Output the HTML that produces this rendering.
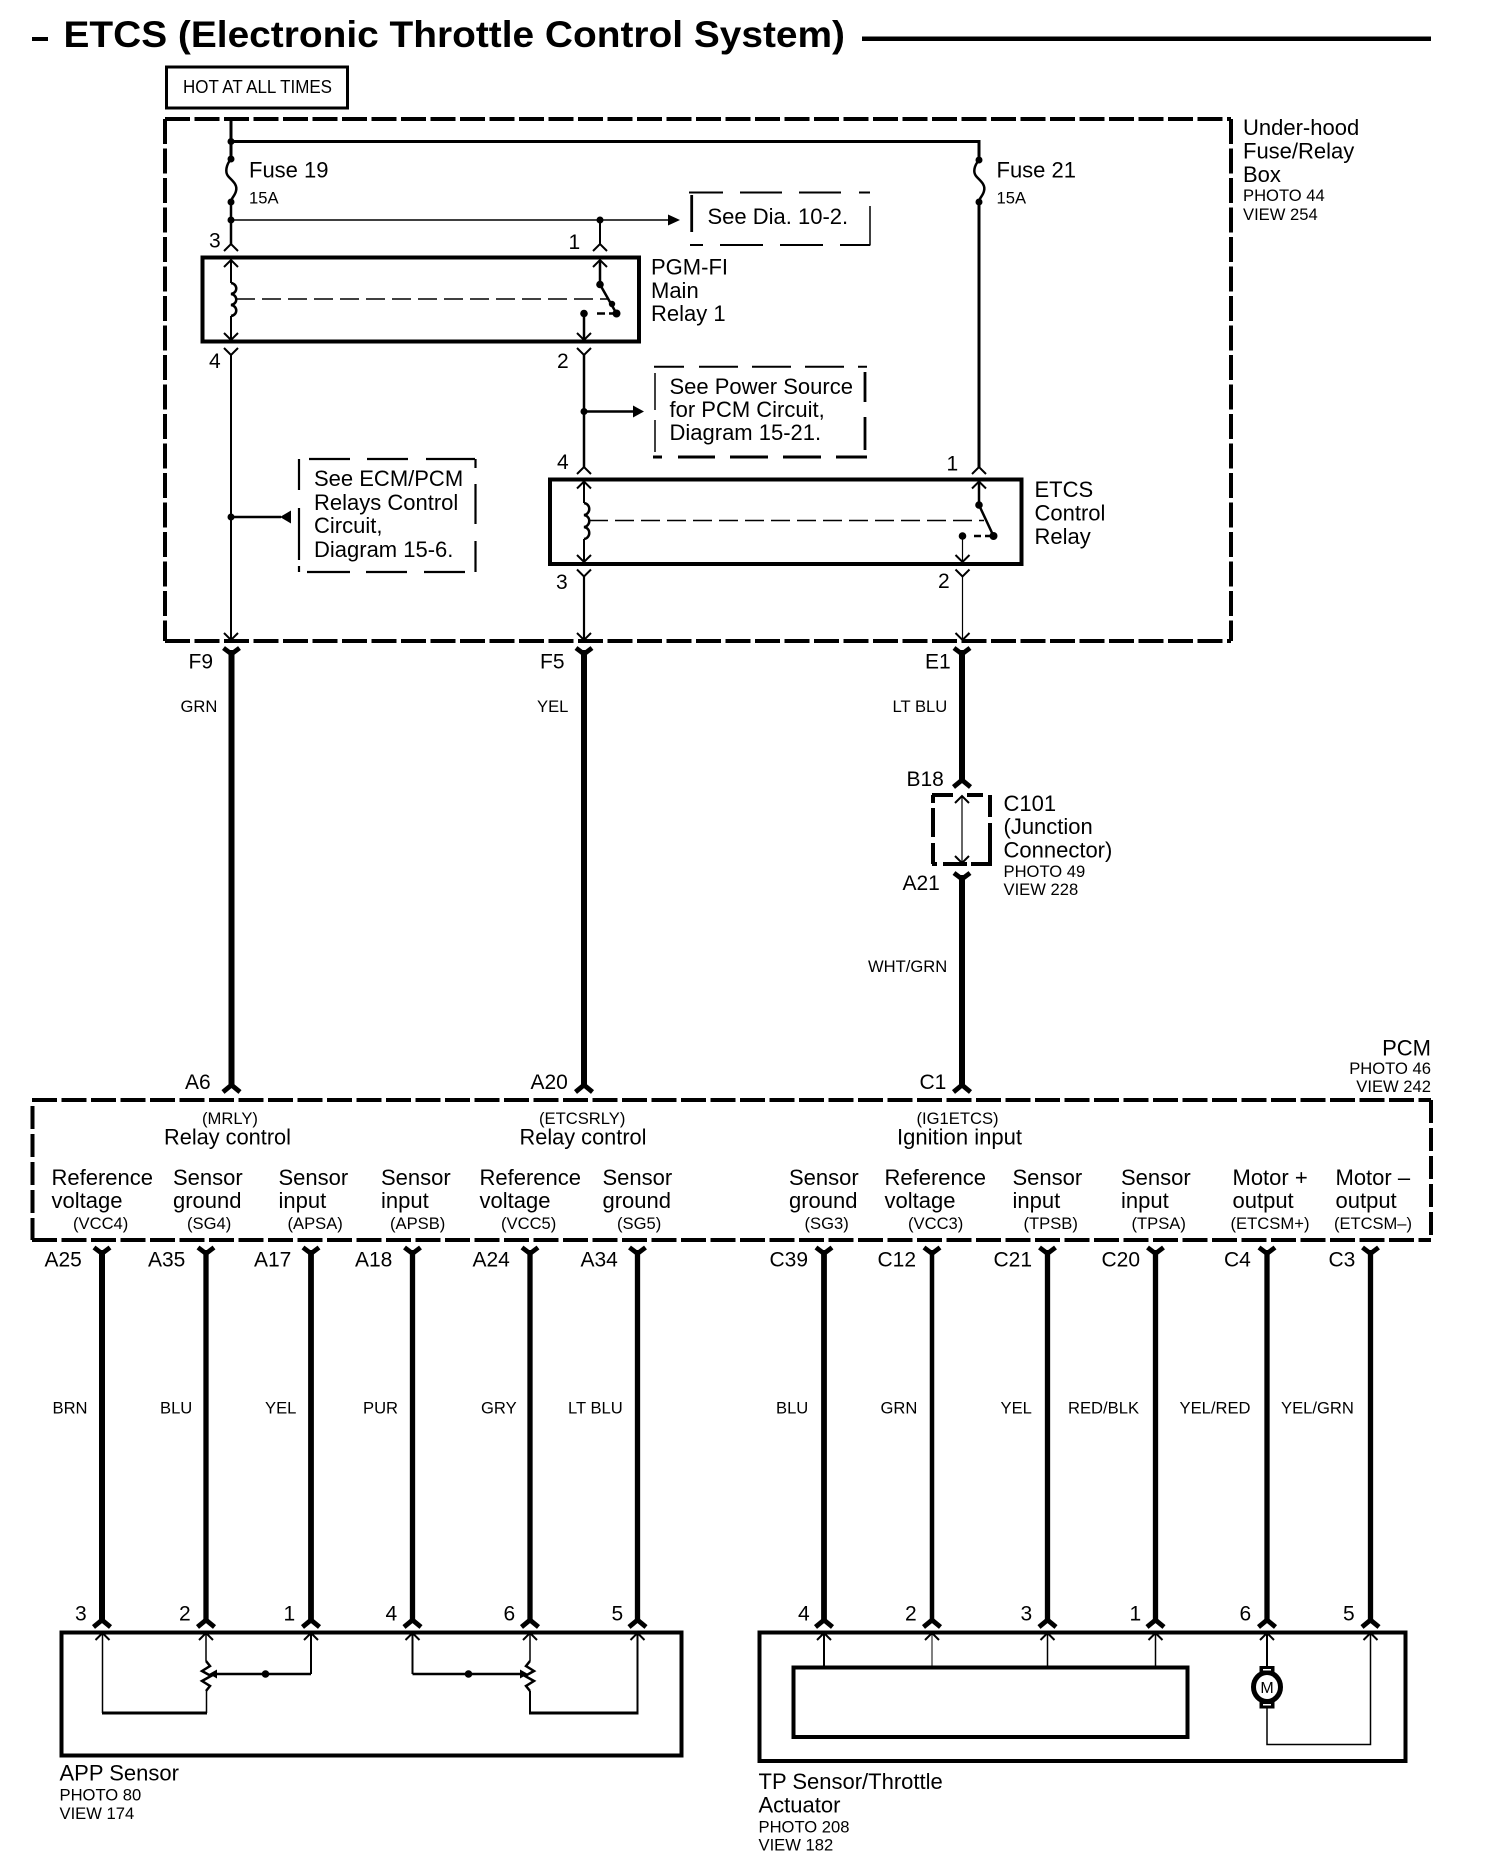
<!DOCTYPE html>
<html>
<head>
<meta charset="utf-8">
<title>ETCS (Electronic Throttle Control System)</title>
<style>
html,body{margin:0;padding:0;background:#fff}
svg{display:block}
text{font-family:"Liberation Sans",sans-serif;font-size:22px;fill:#000}
.s{font-size:16.6px}
.n{font-size:21px}
.w{fill:none;stroke:#000}
</style>
</head>
<body>
<svg xmlns="http://www.w3.org/2000/svg" width="1504" height="1872" viewBox="0 0 1504 1872">
<defs>
<path id="Yt" d="M-8,0 L0,6 L8,0" fill="none" stroke="#000" stroke-width="4.8"/>
<path id="At" d="M-8.5,7 L0,0 L8.5,7" fill="none" stroke="#000" stroke-width="4.8"/>
<path id="vi" d="M-7,-7 L0,0 L7,-7" fill="none" stroke="#000" stroke-width="2"/>
<path id="ai" d="M-7,7 L0,0 L7,7" fill="none" stroke="#000" stroke-width="2"/>
</defs>
<rect width="1504" height="1872" fill="#fff"/>

<!-- title -->
<rect x="32" y="37" width="16" height="4"/>
<text x="63.5" y="47" style="font-size:37.5px;font-weight:bold" textLength="781.5" lengthAdjust="spacingAndGlyphs">ETCS (Electronic Throttle Control System)</text>
<rect x="862" y="36.5" width="569" height="4.5"/>

<!-- hot at all times -->
<rect x="166.5" y="67" width="181" height="41" class="w" stroke-width="3"/>
<text x="183" y="93" style="font-size:18px" textLength="149" lengthAdjust="spacingAndGlyphs">HOT AT ALL TIMES</text>

<!-- under-hood box -->
<g class="w" stroke-width="4" stroke-dasharray="25 4.5">
<path d="M165,119 H1231"/>
<path d="M165,641 H1231"/>
<path d="M165,119 V641"/>
<path d="M1231,119 V641"/>
</g>
<text x="1243" y="135">Under-hood</text>
<text x="1243" y="158.5">Fuse/Relay</text>
<text x="1243" y="182">Box</text>
<text class="s" x="1243" y="201">PHOTO 44</text>
<text class="s" x="1243" y="220">VIEW 254</text>

<!-- top bus and fuses -->
<path class="w" stroke-width="3" d="M231,119 V159 M231,141.5 H979 V160"/>
<circle cx="231" cy="141.5" r="3.5"/>
<circle cx="231" cy="159" r="3.5"/>
<circle cx="231" cy="202" r="3.5"/>
<path class="w" stroke-width="2.5" d="M231,159 C226,165 225,172 228,176 C231,180 238,184 236,191 C235,196 231,198 231,202"/>
<circle cx="979" cy="160" r="3.5"/>
<circle cx="979" cy="202" r="3.5"/>
<path class="w" stroke-width="2.5" d="M979,160 C974,166 973,172 976,176 C979,180 986,184 984,191 C983,196 979,198 979,202"/>
<path class="w" stroke-width="3" d="M979,202 V467"/>
<text x="249" y="177.5">Fuse 19</text>
<text class="s" x="249" y="203.5">15A</text>
<text x="996.5" y="177.5">Fuse 21</text>
<text class="s" x="996.5" y="203.5">15A</text>

<!-- 3 / 1 feed -->
<path class="w" stroke-width="2.5" d="M231,202 V244"/>
<path class="w" stroke-width="1.5" d="M231,220 H668"/>
<path d="M668,214.5 L680,220 L668,225.5 Z"/>
<circle cx="231" cy="220" r="3.5"/>
<circle cx="600" cy="220" r="3.5"/>
<path class="w" stroke-width="2" d="M600,220 V244"/>
<use href="#ai" x="231" y="244"/>
<use href="#ai" x="600" y="244"/>
<text class="n" x="209" y="247.5">3</text>
<text class="n" x="568.5" y="249">1</text>

<!-- See Dia box -->
<path class="w" stroke-width="2.8" d="M691.7,195 V232"/>
<path class="w" stroke-width="1.5" d="M870,206 V245.5"/>
<path class="w" stroke-width="2" d="M689,192.5 H723 M740,192.5 H782 M799,192.5 H841 M859,192.5 H870 M690,245 H703 M720,245 H763 M780,245 H823 M840,245 H870"/>
<text x="707.5" y="224">See Dia. 10-2.</text>

<!-- PGM-FI relay -->
<rect x="202.5" y="257.5" width="436.5" height="84" class="w" stroke-width="4"/>
<use href="#ai" x="231" y="260"/>
<use href="#ai" x="600" y="260"/>
<use href="#vi" x="231" y="340"/>
<use href="#vi" x="584" y="340"/>
<path class="w" stroke-width="2" d="M231,260 V283 M231,316 V340"/>
<path class="w" stroke-width="2.5" d="M231,283 c7,1 7,10 0,11 c7,1 7,10 0,11 c7,1 7,10 0,11"/>
<path class="w" stroke-width="1.5" stroke-dasharray="19 7" d="M236,299 H608"/>
<path class="w" stroke-width="2.5" d="M600,260 V284.5 L616.5,313.5"/>
<circle cx="600" cy="284.5" r="3.8"/>
<circle cx="612" cy="304" r="3.2"/>
<circle cx="616.5" cy="313.5" r="4"/>
<circle cx="584" cy="313.5" r="3.8"/>
<path class="w" stroke-width="2.5" d="M597,313.5 H605 M609,313.5 H614"/>
<path class="w" stroke-width="2.5" d="M584,313.5 V340"/>
<text x="651" y="274.5">PGM-FI</text>
<text x="651" y="298">Main</text>
<text x="651" y="321">Relay 1</text>

<!-- below relay 1 -->
<use href="#ai" transform="translate(231,355) rotate(180)"/>
<use href="#ai" transform="translate(584,355) rotate(180)"/>
<path class="w" stroke-width="2" d="M231,355 V640"/>
<path class="w" stroke-width="2.5" d="M584,355 V467"/>
<text class="n" x="209" y="368">4</text>
<text class="n" x="557" y="368">2</text>
<circle cx="584" cy="411.5" r="3.5"/>
<path class="w" stroke-width="2.5" d="M584,411.5 H633"/>
<path d="M633,405.5 L644,411.5 L633,417.5 Z"/>

<!-- Power source box -->
<path class="w" stroke-width="1.5" d="M655,373 V410 M655,420 V452"/>
<path class="w" stroke-width="2.8" d="M865,372 V402 M865,417 V450"/>
<path class="w" stroke-width="2" d="M654,366.7 H684 M699,366.7 H738 M752,366.7 H791 M805,366.7 H844 M858,366.7 H867"/>
<path class="w" stroke-width="3" d="M653,457 H662 M678,457 H715 M730,457 H768 M783,457 H821 M836,457 H867"/>
<text x="669.5" y="394">See Power Source</text>
<text x="669.5" y="417">for PCM Circuit,</text>
<text x="669.5" y="440">Diagram 15-21.</text>

<!-- ECM box -->
<circle cx="231" cy="517" r="3.5"/>
<path class="w" stroke-width="2.5" d="M231,517 H281"/>
<path d="M280,517 L291,510.5 V523.5 Z"/>
<g class="w" stroke-width="2.2">
<path d="M299,459 V490 M299,508 V560 M299,566 V572"/>
<path d="M475.5,459 V468 M475.5,484 V524 M475.5,541 V572"/>
<path d="M309,459 H350 M367,459 H408 M426,459 H475 M307,572 H350 M366,572 H407 M424,572 H465"/>
</g>
<text x="314" y="486">See ECM/PCM</text>
<text x="314" y="510">Relays Control</text>
<text x="314" y="533">Circuit,</text>
<text x="314" y="557">Diagram 15-6.</text>

<!-- ETCS relay -->
<use href="#ai" x="584" y="467"/>
<use href="#ai" x="979" y="467"/>
<text class="n" x="557" y="469">4</text>
<text class="n" x="946.5" y="470.5">1</text>
<rect x="550" y="479.5" width="471.5" height="84.5" class="w" stroke-width="4"/>
<use href="#ai" x="584" y="481.5"/>
<use href="#ai" x="979" y="481.5"/>
<use href="#vi" x="584" y="562"/>
<use href="#vi" x="962.5" y="562"/>
<path class="w" stroke-width="2" d="M584,481.5 V503 M584,539 V562"/>
<path class="w" stroke-width="2.5" d="M584,503 c7,1 7,11 0,12 c7,1 7,11 0,12 c7,1 7,11 0,12"/>
<path class="w" stroke-width="1.5" stroke-dasharray="19 7" d="M589,520.5 H984"/>
<path class="w" stroke-width="2.5" d="M979,481.5 V505 L993.5,536"/>
<circle cx="979" cy="505" r="3.8"/>
<circle cx="993.5" cy="536" r="4"/>
<circle cx="962.5" cy="536" r="3.8"/>
<path class="w" stroke-width="2.5" d="M974,536 H981 M985,536 H990"/>
<path class="w" stroke-width="1.2" d="M962.5,536 V562"/>
<text x="1034.5" y="497">ETCS</text>
<text x="1034.5" y="520.5">Control</text>
<text x="1034.5" y="544">Relay</text>

<use href="#ai" transform="translate(584,576.5) rotate(180)"/>
<use href="#ai" transform="translate(962.5,576.5) rotate(180)"/>
<text class="n" x="556" y="589">3</text>
<text class="n" x="938" y="588">2</text>
<path class="w" stroke-width="2.2" d="M584,576.5 V640"/>
<path class="w" stroke-width="1.2" d="M962.5,576.5 V640"/>
<use href="#vi" x="231" y="640"/>
<use href="#vi" x="584" y="640"/>
<use href="#vi" x="962.5" y="640"/>

<!-- main thick wires upper -->
<g class="w" stroke-width="6">
<path d="M231.5,650 V1087"/>
<path d="M584,650 V1087"/>
<path d="M962,650 V782"/>
<path d="M962,875 V1087"/>
</g>
<use href="#Yt" x="231.5" y="648"/>
<use href="#Yt" x="584" y="648"/>
<use href="#Yt" x="962" y="648"/>
<use href="#At" x="962" y="780"/>
<use href="#Yt" x="962" y="873"/>
<use href="#At" x="231.5" y="1085"/>
<use href="#At" x="584" y="1085"/>
<use href="#At" x="962" y="1085"/>
<text class="n" x="188.5" y="668.5">F9</text>
<text class="n" x="540" y="668.5">F5</text>
<text class="n" x="925" y="668.5">E1</text>
<text class="s" x="180.5" y="712">GRN</text>
<text class="s" x="537" y="712">YEL</text>
<text class="s" x="892.5" y="712">LT BLU</text>
<text class="n" x="906.5" y="786">B18</text>
<text class="n" x="902.5" y="890">A21</text>
<text class="s" x="868" y="972">WHT/GRN</text>

<!-- C101 -->
<path class="w" stroke-width="4" d="M932,795 H953 M967,795 H983 M932,864 H937 M943,864 H967 M971,864 H992"/>
<path class="w" stroke-width="4" d="M933,795 V803 M933,808 V837 M933,843 V864 M990,795 V817 M990,823 V863"/>
<path class="w" stroke-width="1.2" d="M962,796 V863"/>
<use href="#ai" x="962" y="796"/>
<use href="#vi" x="962" y="863"/>
<text x="1003.5" y="811">C101</text>
<text x="1003.5" y="834">(Junction</text>
<text x="1003.5" y="857.5">Connector)</text>
<text class="s" x="1003.5" y="877">PHOTO 49</text>
<text class="s" x="1003.5" y="895">VIEW 228</text>

<!-- PCM -->
<text x="1431" y="1055.5" text-anchor="end">PCM</text>
<text class="s" x="1431" y="1074" text-anchor="end">PHOTO 46</text>
<text class="s" x="1431" y="1092" text-anchor="end">VIEW 242</text>
<text class="n" x="185" y="1089">A6</text>
<text class="n" x="530.5" y="1089">A20</text>
<text class="n" x="919.5" y="1089">C1</text>
<g class="w" stroke-width="4" stroke-dasharray="25 4.5">
<path d="M32,1100 H1431"/>
<path d="M32,1240 H1431"/>
</g>
<g class="w" stroke-width="4" stroke-dasharray="23 5">
<path d="M32.5,1106 V1240"/>
<path d="M1431,1100 V1240"/>
</g>
<text class="s" x="202" y="1124">(MRLY)</text>
<text x="164" y="1144.5" textLength="127" lengthAdjust="spacingAndGlyphs">Relay control</text>
<text class="s" x="539" y="1124">(ETCSRLY)</text>
<text x="519.5" y="1144.5" textLength="127" lengthAdjust="spacingAndGlyphs">Relay control</text>
<text class="s" x="916.5" y="1124">(IG1ETCS)</text>
<text x="897" y="1144.5" textLength="125" lengthAdjust="spacingAndGlyphs">Ignition input</text>

<text x="51.5" y="1185">Reference</text><text x="51.5" y="1208">voltage</text><text class="s" x="73" y="1229">(VCC4)</text>
<text x="173" y="1185">Sensor</text><text x="173" y="1208">ground</text><text class="s" x="187" y="1229">(SG4)</text>
<text x="278.5" y="1185">Sensor</text><text x="278.5" y="1208">input</text><text class="s" x="287.5" y="1229">(APSA)</text>
<text x="381" y="1185">Sensor</text><text x="381" y="1208">input</text><text class="s" x="390" y="1229">(APSB)</text>
<text x="479.5" y="1185">Reference</text><text x="479.5" y="1208">voltage</text><text class="s" x="501" y="1229">(VCC5)</text>
<text x="602.5" y="1185">Sensor</text><text x="602.5" y="1208">ground</text><text class="s" x="617" y="1229">(SG5)</text>
<text x="789" y="1185">Sensor</text><text x="789" y="1208">ground</text><text class="s" x="804.5" y="1229">(SG3)</text>
<text x="884.5" y="1185">Reference</text><text x="884.5" y="1208">voltage</text><text class="s" x="908" y="1229">(VCC3)</text>
<text x="1012.5" y="1185">Sensor</text><text x="1012.5" y="1208">input</text><text class="s" x="1023.5" y="1229">(TPSB)</text>
<text x="1121" y="1185">Sensor</text><text x="1121" y="1208">input</text><text class="s" x="1131.5" y="1229">(TPSA)</text>
<text x="1232.5" y="1185">Motor +</text><text x="1232.5" y="1208">output</text><text class="s" x="1230.5" y="1229" textLength="79" lengthAdjust="spacingAndGlyphs">(ETCSM+)</text>
<text x="1335.5" y="1185">Motor –</text><text x="1335.5" y="1208">output</text><text class="s" x="1334" y="1229" textLength="78" lengthAdjust="spacingAndGlyphs">(ETCSM–)</text>

<!-- lower wires -->
<g class="w" stroke-width="5.3">
<path stroke-width="6" d="M102,1250 V1622"/>
<path d="M206,1250 V1622"/>
<path stroke-width="5.8" d="M311,1250 V1622"/>
<path d="M412.5,1250 V1622"/>
<path d="M530,1250 V1622"/>
<path d="M637.5,1250 V1622"/>
<path stroke-width="5.8" d="M824,1250 V1622"/>
<path stroke-width="4.5" d="M932,1250 V1622"/>
<path d="M1047.5,1250 V1622"/>
<path d="M1155.5,1250 V1622"/>
<path d="M1267,1250 V1622"/>
<path d="M1370.5,1250 V1622"/>
</g>
<g>
<use href="#Yt" x="102" y="1247.5"/><use href="#Yt" x="206" y="1247.5"/><use href="#Yt" x="311" y="1247.5"/><use href="#Yt" x="412.5" y="1247.5"/><use href="#Yt" x="530" y="1247.5"/><use href="#Yt" x="637.5" y="1247.5"/>
<use href="#Yt" x="824" y="1247.5"/><use href="#Yt" x="932" y="1247.5"/><use href="#Yt" x="1047.5" y="1247.5"/><use href="#Yt" x="1155.5" y="1247.5"/><use href="#Yt" x="1267" y="1247.5"/><use href="#Yt" x="1370.5" y="1247.5"/>
<use href="#At" x="102" y="1620"/><use href="#At" x="206" y="1620"/><use href="#At" x="311" y="1620"/><use href="#At" x="412.5" y="1620"/><use href="#At" x="530" y="1620"/><use href="#At" x="637.5" y="1620"/>
<use href="#At" x="824" y="1620"/><use href="#At" x="932" y="1620"/><use href="#At" x="1047.5" y="1620"/><use href="#At" x="1155.5" y="1620"/><use href="#At" x="1267" y="1620"/><use href="#At" x="1370.5" y="1620"/>
</g>
<g class="n">
<text class="n" x="44.5" y="1266.5">A25</text><text class="n" x="148" y="1266.5">A35</text><text class="n" x="254" y="1266.5">A17</text><text class="n" x="355" y="1266.5">A18</text><text class="n" x="472.5" y="1266.5">A24</text><text class="n" x="580.5" y="1266.5">A34</text>
<text class="n" x="769.5" y="1266.5">C39</text><text class="n" x="877.5" y="1266.5">C12</text><text class="n" x="993.5" y="1266.5">C21</text><text class="n" x="1101.5" y="1266.5">C20</text><text class="n" x="1224" y="1266.5">C4</text><text class="n" x="1328.5" y="1266.5">C3</text>
</g>

<text class="s" x="52.5" y="1413.5">BRN</text><text class="s" x="160" y="1413.5">BLU</text><text class="s" x="265" y="1413.5">YEL</text><text class="s" x="363" y="1413.5">PUR</text><text class="s" x="481" y="1413.5">GRY</text><text class="s" x="568" y="1413.5">LT BLU</text>
<text class="s" x="776" y="1413.5">BLU</text><text class="s" x="880.5" y="1413.5">GRN</text><text class="s" x="1000.5" y="1413.5">YEL</text><text class="s" x="1068" y="1413.5">RED/BLK</text><text class="s" x="1179.5" y="1413.5">YEL/RED</text><text class="s" x="1281" y="1413.5">YEL/GRN</text>

<text class="n" x="75" y="1620.5">3</text><text class="n" x="179" y="1620.5">2</text><text class="n" x="283.5" y="1620.5">1</text><text class="n" x="385.5" y="1620.5">4</text><text class="n" x="503.5" y="1620.5">6</text><text class="n" x="611.5" y="1620.5">5</text>
<text class="n" x="798" y="1620.5">4</text><text class="n" x="905" y="1620.5">2</text><text class="n" x="1020.5" y="1620.5">3</text><text class="n" x="1129.5" y="1620.5">1</text><text class="n" x="1239.5" y="1620.5">6</text><text class="n" x="1343" y="1620.5">5</text>

<!-- APP sensor -->
<rect x="61.5" y="1632.5" width="620" height="123" class="w" stroke-width="4"/>
<use href="#ai" x="102.5" y="1633"/><use href="#ai" x="206" y="1633"/><use href="#ai" x="311" y="1633"/><use href="#ai" x="412.5" y="1633"/><use href="#ai" x="530" y="1633"/><use href="#ai" x="637.5" y="1633"/>
<path class="w" stroke-width="1.5" d="M102.5,1633 V1713"/>
<path class="w" stroke-width="3" d="M102,1713 H207"/>
<path class="w" stroke-width="1.5" d="M206.5,1691 V1713"/>
<path class="w" stroke-width="1.5" d="M206,1633 V1661"/>
<path class="w" stroke-width="2.5" d="M206,1661 L210,1666 L202,1671 L211,1676 L202,1681 L210,1686 L206,1691"/>
<path class="w" stroke-width="2" d="M311,1633 V1674"/>
<path class="w" stroke-width="2.5" d="M311,1674 H214"/>
<path d="M209,1674 L217,1669.5 V1678.5 Z"/>
<circle cx="265.5" cy="1674" r="3.8"/>
<path class="w" stroke-width="2" d="M412.5,1633 V1674"/>
<path class="w" stroke-width="2.5" d="M412.5,1674 H522"/>
<path d="M528,1674 L520,1669.5 V1678.5 Z"/>
<circle cx="468.5" cy="1674" r="3.8"/>
<path class="w" stroke-width="1.5" d="M530,1633 V1661"/>
<path class="w" stroke-width="2.5" d="M530,1661 L526,1666 L534,1671 L525,1676 L534,1681 L526,1686 L530,1691"/>
<path class="w" stroke-width="2" d="M530,1691 V1713 M637.5,1713 V1633"/>
<path class="w" stroke-width="3" d="M529,1713 H638.5"/>
<text x="59.5" y="1780.5">APP Sensor</text>
<text class="s" x="59.5" y="1800.5">PHOTO 80</text>
<text class="s" x="59.5" y="1819">VIEW 174</text>

<!-- TP sensor -->
<rect x="759.5" y="1632.5" width="646" height="128.5" class="w" stroke-width="4"/>
<rect x="793.5" y="1667.5" width="394" height="69.5" class="w" stroke-width="4"/>
<use href="#ai" x="824" y="1633"/><use href="#ai" x="932" y="1633"/><use href="#ai" x="1047.5" y="1633"/><use href="#ai" x="1155.5" y="1633"/><use href="#ai" x="1267" y="1633"/><use href="#ai" x="1370.5" y="1633"/>
<path class="w" stroke-width="2" d="M824,1633 V1666"/>
<path class="w" stroke-width="1" d="M932,1633 V1666"/>
<path class="w" stroke-width="1.5" d="M1047.5,1633 V1666 M1155.5,1633 V1666"/>
<path class="w" stroke-width="2" d="M1267,1633 V1666"/>
<ellipse cx="1267" cy="1687" rx="13.5" ry="14.5" fill="#fff" stroke="#000" stroke-width="5"/>
<rect x="1259.5" y="1666" width="15" height="7"/>
<rect x="1259.5" y="1701.5" width="15" height="7"/>
<rect x="1263" y="1669" width="8" height="1.5" fill="#fff"/>
<rect x="1263" y="1704" width="8" height="1.5" fill="#fff"/>
<text x="1267" y="1693" text-anchor="middle" style="font-size:16px">M</text>
<path class="w" stroke-width="1.5" d="M1267,1708 V1744.5 H1370.5 V1633"/>
<text x="758.5" y="1789">TP Sensor/Throttle</text>
<text x="758.5" y="1812.5">Actuator</text>
<text class="s" x="758.5" y="1832.5">PHOTO 208</text>
<text class="s" x="758.5" y="1850.5">VIEW 182</text>
</svg>
</body>
</html>
